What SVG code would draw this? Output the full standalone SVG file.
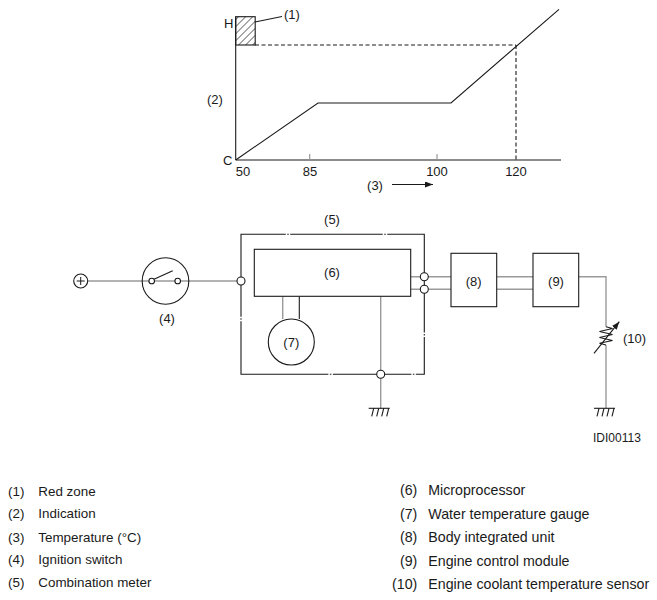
<svg xmlns="http://www.w3.org/2000/svg" width="657" height="600" viewBox="0 0 657 600">
<defs>
<style>
text{font-family:"Liberation Sans",Arial,sans-serif;font-size:13px;fill:#1a1a1a}
.ln{fill:none;stroke:#1a1a1a;stroke-width:1.1}
.wire{fill:none;stroke:#9a9a9a;stroke-width:1.4}
.box{fill:#fff;stroke:#1a1a1a;stroke-width:1.1}
.term{fill:#fff;stroke:#1a1a1a;stroke-width:1.1}
.mid{text-anchor:middle}
.lgl{font-size:13.4px}
.lgr{font-size:14.2px}
.code{font-size:12px}
</style>
<pattern id="hatch" patternUnits="userSpaceOnUse" width="5" height="5" patternTransform="rotate(45)">
<line x1="0" y1="0" x2="0" y2="5" stroke="#1a1a1a" stroke-width="1.2"/>
</pattern>
<marker id="arr" markerWidth="8" markerHeight="6" refX="8" refY="3" orient="auto" markerUnits="userSpaceOnUse">
<path d="M0,0 L8,3 L0,6 Z" fill="#1a1a1a"/>
</marker>
<g id="gnd">
<line x1="-12" y1="0" x2="9" y2="0" stroke="#1a1a1a" stroke-width="1.1"/>
<path d="M-7,0 L-9,8 M-2,0 L-4,8 M3,0 L1,8 M8,0 L6,8" stroke="#1a1a1a" stroke-width="1.1"/>
</g>
</defs>
<rect width="657" height="600" fill="#fff"/>

<!-- Chart -->
<g id="chart">
<rect id="red-zone" x="235.7" y="16.7" width="19.5" height="28.3" fill="url(#hatch)" stroke="#1a1a1a" stroke-width="1.1"/>
<line class="ln" x1="235.7" y1="16.7" x2="235.7" y2="160"/>
<line class="ln" x1="235.7" y1="160" x2="561" y2="160"/>
<line class="ln" x1="255" y1="45" x2="516" y2="45" stroke-dasharray="4,2.5"/>
<line class="ln" x1="516" y1="45" x2="516" y2="160" stroke-dasharray="4,2.5"/>
<line x1="309.7" y1="154" x2="309.7" y2="160" stroke="#999" stroke-width="1.2"/>
<line x1="437" y1="154" x2="437" y2="160" stroke="#999" stroke-width="1.2"/>
<polyline class="ln" points="235.7,160 318,103 451,103 559,9.3"/>
<line class="ln" x1="255" y1="22" x2="282" y2="16.5"/>
<text x="284" y="19">(1)</text>
<text x="224" y="28">H</text>
<text x="223" y="165">C</text>
<text x="207" y="104">(2)</text>
<text class="mid" x="243" y="176">50</text>
<text class="mid" x="310" y="176">85</text>
<text class="mid" x="437" y="176">100</text>
<text class="mid" x="516" y="176">120</text>
<text class="mid" x="375" y="190">(3)</text>
<line class="ln" x1="392" y1="184.5" x2="433" y2="184.5" marker-end="url(#arr)"/>
</g>

<!-- Connectors -->
<g id="connectors">
<line class="wire" x1="88" y1="281" x2="237" y2="281"/>
<line class="wire" x1="282.7" y1="296.3" x2="282.7" y2="319"/>
<line class="ln" x1="299.3" y1="296.3" x2="299.3" y2="319"/>
<line class="wire" x1="410.7" y1="276.7" x2="451" y2="276.7"/>
<line class="wire" x1="410.7" y1="289.3" x2="451" y2="289.3"/>
<line class="wire" x1="496.7" y1="276.7" x2="533" y2="276.7"/>
<line class="wire" x1="496.7" y1="289.3" x2="533" y2="289.3"/>
<polyline class="wire" points="578.7,276.7 606,276.7 606,326.7"/>
<line class="wire" x1="606" y1="345" x2="606" y2="408.3"/>
<line class="wire" x1="380.7" y1="296.3" x2="380.7" y2="408.3"/>
</g>

<g id="n-plus">
<circle class="term" cx="80.7" cy="281" r="7"/>
<path d="M76.7,281 H84.7 M80.7,277 V285" stroke="#1a1a1a" stroke-width="1"/>
</g>

<g id="n4">
<circle class="ln" cx="165.5" cy="281" r="23.3"/>
<line class="ln" x1="154" y1="279.2" x2="172.7" y2="270.7"/>
<circle class="term" cx="151.7" cy="281" r="2.8"/>
<circle class="term" cx="177.7" cy="281" r="2.8"/>
<text class="mid" x="167" y="322.5">(4)</text>
</g>

<g id="n5">
<path class="ln" d="M241,234.3 H424.3 V374.3 H241 Z" stroke-dasharray="44.75,1.5,1.5,1.5,92.5,1.5,1.5,1.5,135.2,1.5,1.5,1.5,45.8,1.5,1.5,1.5,78.5,1.5,1.5,1.5,140.5,1.5,1.5,1.5,90"/>
<text class="mid" x="332" y="224">(5)</text>
<circle class="term" cx="241" cy="281" r="4"/>
<circle class="term" cx="424.3" cy="276.7" r="4"/>
<circle class="term" cx="424.3" cy="289.3" r="4"/>
<circle class="term" cx="380.7" cy="374.3" r="4"/>
</g>

<g id="n6">
<rect class="box" x="254.3" y="249.3" width="156.4" height="47"/>
<text class="mid" x="332" y="277">(6)</text>
</g>

<g id="n7">
<circle class="box" cx="291.3" cy="342" r="23"/>
<text class="mid" x="291.3" y="346.5">(7)</text>
</g>

<g id="n8">
<rect class="box" x="451" y="253.3" width="45.7" height="53.4"/>
<text class="mid" x="473.7" y="286">(8)</text>
</g>

<g id="n9">
<rect class="box" x="533" y="253.3" width="45.7" height="53.4"/>
<text class="mid" x="556" y="286">(9)</text>
</g>

<g id="n10">
<polyline class="ln" points="606,326.7 612.5,328.5 599.5,331.5 612.5,334.5 599.5,337.5 612.5,340.5 599.5,343.2 606,345"/>
<line class="ln" x1="594" y1="353.3" x2="619.3" y2="321.7" marker-end="url(#arr)"/>
<text x="623" y="342.5">(10)</text>
</g>

<g id="gnd1"><use href="#gnd" x="380.7" y="408.3"/></g>
<g id="gnd2"><use href="#gnd" x="606" y="408.3"/></g>

<text class="code" x="593" y="441.5">IDI00113</text>

<!-- Legend -->
<g id="legend">
<g class="lgl">
<text class="lgl" x="8" y="495.5">(1)</text><text class="lgl" x="38.3" y="495.5">Red zone</text>
<text class="lgl" x="8" y="518">(2)</text><text class="lgl" x="38.3" y="518">Indication</text>
<text class="lgl" x="8" y="541.5">(3)</text><text class="lgl" x="38.3" y="541.5">Temperature (°C)</text>
<text class="lgl" x="8" y="564">(4)</text><text class="lgl" x="38.3" y="564">Ignition switch</text>
<text class="lgl" x="8" y="587">(5)</text><text class="lgl" x="38.3" y="587">Combination meter</text>
</g>
<text class="lgr" x="417.3" y="495" text-anchor="end">(6)</text><text class="lgr" x="428.3" y="495">Microprocessor</text>
<text class="lgr" x="417.3" y="518.5" text-anchor="end">(7)</text><text class="lgr" x="428.3" y="518.5">Water temperature gauge</text>
<text class="lgr" x="417.3" y="542" text-anchor="end">(8)</text><text class="lgr" x="428.3" y="542">Body integrated unit</text>
<text class="lgr" x="417.3" y="565.5" text-anchor="end">(9)</text><text class="lgr" x="428.3" y="565.5">Engine control module</text>
<text class="lgr" x="417.3" y="589" text-anchor="end">(10)</text><text class="lgr" x="428.3" y="589">Engine coolant temperature sensor</text>
</g>
</svg>
